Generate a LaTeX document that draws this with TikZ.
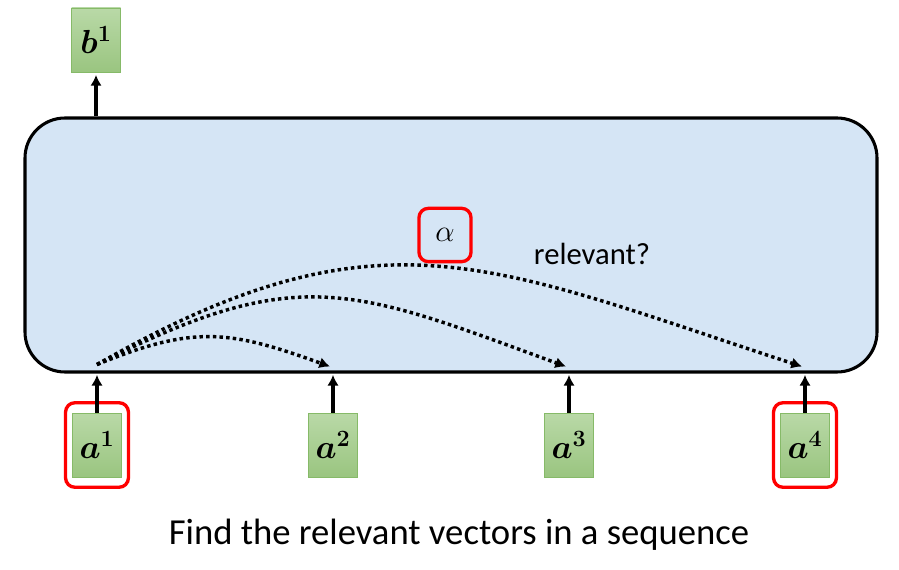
\RequirePackage{fix-cm}
\documentclass[tikz,border=0pt]{standalone}
\usepackage{fontspec}
\setmainfont{Carlito}
\usepackage{bm}
\usetikzlibrary{fit,arrows.meta}

\definecolor{layerblue}{HTML}{D5E5F5}
\definecolor{vectop}{HTML}{B9D9A7}
\definecolor{vecbot}{HTML}{9AC580}
\definecolor{vecedge}{HTML}{86BA68}

\begin{document}
\begin{tikzpicture}[x=0.75pt,y=-0.75pt,>={Latex[length=8pt,width=8.5pt]},node distance=177pt,
                    vec/.style={draw=vecedge,top color=vectop,bottom color=vecbot,
                      minimum width=36.75pt,minimum height=48pt,inner sep=0pt,
                      font=\fontsize{25}{25}\selectfont},
                    hl/.style={draw=red,line width=2.5pt,rounded corners=7pt},
                    feed/.style={->,line width=2.3pt},
                    rel/.style={->,line width=2.6pt,dash pattern=on 2.6pt off 2.4pt}]
  \useasboundingbox (0,0) rectangle (899,570);

  \node[draw,line width=2.3pt,rounded corners=30pt,fill=layerblue,
        minimum width=639pt,minimum height=190.5pt] (layer) at (451,245) {};

  \node[vec]         (b1) at (96,40)    {$\bm{b}^{\bm{1}}$};
  \node[vec]         (a1) at (97,445)   {$\bm{a}^{\bm{1}}$};
  \node[vec]         (a2) [right of=a1] {$\bm{a}^{\bm{2}}$};
  \node[vec]         (a3) [right of=a2] {$\bm{a}^{\bm{3}}$};
  \node[vec]         (a4) [right of=a3] {$\bm{a}^{\bm{4}}$};

  \node[hl,fit=(a1),inner xsep=5pt,inner ysep=7.5pt] (h1) {};
  \node[hl,fit=(a4),inner xsep=5pt,inner ysep=7.5pt] (h4) {};

  \node[hl,minimum width=39pt,minimum height=40pt,
        font=\fontsize{23}{23}\selectfont] (alpha) at (445,235) {$\alpha$};
  \node[font=\fontsize{23}{23}\selectfont] (relq) at (592,254) {relevant?};
  \node[font=\fontsize{27.5}{27.5}\selectfont] (cap) at (459,535)
       {Find the relevant vectors in a sequence};

  \draw[feed,shorten >=2pt] (layer.north -| b1) -- (b1.south);
  \foreach \i in {1,...,4}
    \draw[feed,shorten >=1pt] (a\i.north) -- (a\i.north |- layer.south);

  \path (a1.north |- layer.south) ++(0,-9) coordinate (src);
  \foreach \i in {2,3,4}
    \path (a\i.north |- layer.south) ++(-3,-7) coordinate (t\i);

  \draw[rel] (src) .. controls +(98,-40) and +(-100,-36) .. (t2);
  \draw[rel] (src) .. controls +(202,-103) and +(-213,-78) .. (t3);
  \draw[rel] (src) .. controls +(283,-162) and +(-312,-102) .. (t4);
\end{tikzpicture}
\end{document}
